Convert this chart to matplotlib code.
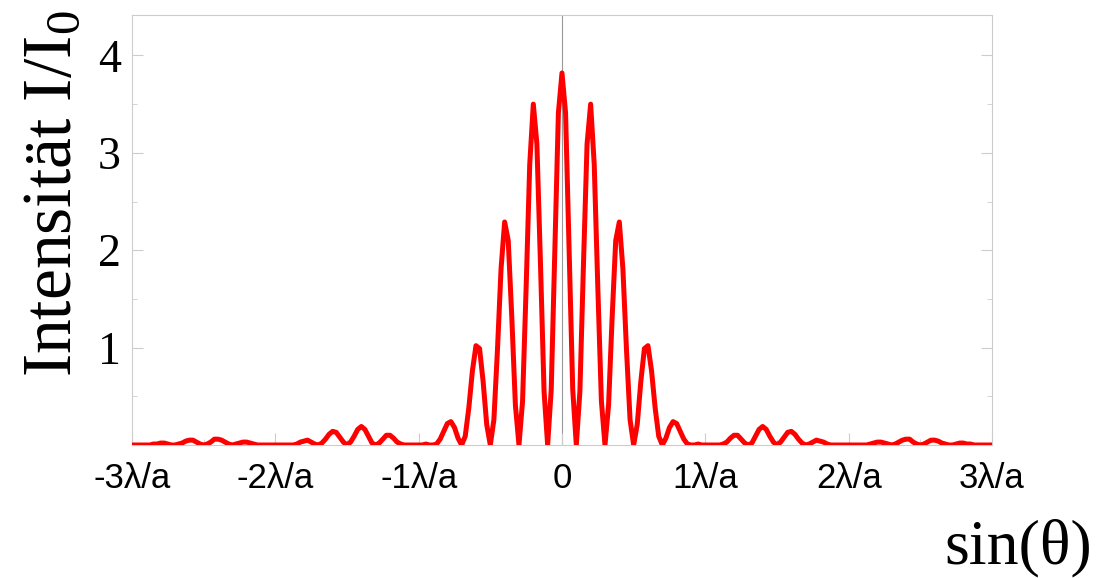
import numpy as np
import matplotlib.pyplot as plt

plt.rcParams['mathtext.fontset'] = 'custom'
plt.rcParams['mathtext.rm'] = 'Liberation Serif'
plt.rcParams['mathtext.it'] = 'Liberation Serif:italic'

# sin(theta) in units of lambda/a, right half (curve is symmetric), step 0.025
sin_pos = np.linspace(0, 3, 121)
# I/I0 at those positions
intensity_pos = [
    3.82, 3.41, 1.98, 0.57, 0.00, 0.55, 1.86, 3.09,
    3.50, 2.88, 1.62, 0.45, 0.00, 0.41, 1.31, 2.10,
    2.29, 1.81, 0.98, 0.26, 0.00, 0.21, 0.65, 0.99,
    1.02, 0.76, 0.38, 0.09, 0.00, 0.07, 0.18, 0.24,
    0.22, 0.14, 0.06, 0.01, 0.00, 0.00, 0.01, 0.00,
    0.00, 0.00, 0.00, 0.00, 0.00, 0.01, 0.03, 0.07,
    0.10, 0.10, 0.06, 0.02, 0.00, 0.02, 0.09, 0.16,
    0.19, 0.16, 0.09, 0.03, 0.00, 0.03, 0.08, 0.13,
    0.14, 0.11, 0.06, 0.02, 0.00, 0.01, 0.03, 0.05,
    0.04, 0.03, 0.01, 0.00, 0.00, 0.00, 0.00, 0.00,
    0.00, 0.00, 0.00, 0.00, 0.00, 0.00, 0.01, 0.02,
    0.03, 0.03, 0.02, 0.01, 0.00, 0.01, 0.03, 0.05,
    0.06, 0.06, 0.03, 0.01, 0.00, 0.01, 0.03, 0.05,
    0.05, 0.04, 0.02, 0.01, 0.00, 0.00, 0.01, 0.02,
    0.02, 0.01, 0.01, 0.00, 0.00, 0.00, 0.00, 0.00,
    0.00,
]
x_ticks = [-3, -2, -1, 0, 1, 2, 3]
x_labels = ['-3λ/a', '-2λ/a', '-1λ/a', '0', '1λ/a', '2λ/a', '3λ/a']
y_ticks = [1, 2, 3, 4]
y_labels = ['1', '2', '3', '4']

intensity_pos = np.array(intensity_pos)
x = np.concatenate([-sin_pos[:0:-1], sin_pos])
y = np.concatenate([intensity_pos[:0:-1], intensity_pos])

grey = '#cccccc'
fig = plt.figure(figsize=(11.08, 5.78), dpi=100)
ax = fig.add_axes([0.1191, 0.2301, 0.7762, 0.7431])
ax.axvline(0, color='#999999', lw=0.8, zorder=1)
ax.plot(x, y, color='#ff0000', lw=3.6, solid_joinstyle='round',
        solid_capstyle='butt', zorder=3)
ax.set_xlim(-3, 3)
ax.set_ylim(0, 4.41)

for s in ax.spines.values():
    s.set_color(grey)
    s.set_linewidth(0.8)

ax.set_xticks(x_ticks)
ax.set_xticklabels(x_labels, fontfamily='Liberation Sans', fontsize=25)
ax.set_xticks([-2.5, -1.5, -0.5, 0.5, 1.5, 2.5], minor=True)
ax.set_yticks(y_ticks)
ax.set_yticklabels(y_labels, fontfamily='Liberation Serif', fontsize=33)
ax.set_yticks([0.5, 1.5, 2.5, 3.5], minor=True)

ax.tick_params(axis='x', which='major', direction='in', length=8.6, color=grey, pad=12)
ax.tick_params(axis='x', which='minor', direction='in', length=4.3, color=grey)
ax.tick_params(axis='y', which='major', direction='in', length=8, color=grey, right=True, pad=8)
ax.tick_params(axis='y', which='minor', direction='in', length=3.6, color=grey, right=True)

fig.text(70 / 1108, 1 - 377 / 578, 'Intensität I/I$_0$', rotation=90,
         rotation_mode='anchor', ha='left', va='baseline',
         fontfamily='Liberation Serif', fontsize=50)
fig.text(1092 / 1108, 1 - 563 / 578, 'sin(θ)', ha='right', va='baseline',
         fontfamily='Liberation Serif', fontsize=46)

fig.savefig('out.png', dpi=100)
